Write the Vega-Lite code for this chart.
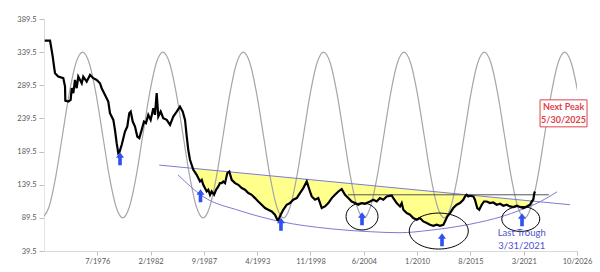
{
  "$schema": "https://vega.github.io/schema/vega-lite/v6.json",
  "width": 533,
  "height": 232,
  "autosize": {"type": "none"},
  "padding": {"left": 44, "top": 19, "right": 23, "bottom": 21},
  "background": "white",
  "config": {
    "view": {"stroke": null},
    "font": "Lato",
    "axis": {"labelFont": "Lato", "labelColor": "#595959", "labelFontSize": 7.5, "domainColor": "#d9d9d9", "tickColor": "#bfbfbf", "grid": false, "title": null, "labelFlush": false, "labelOverlap": false, "zindex": 1}
  },
  "datasets": {
    "price": [
      {"t":1970.99,"v":356.8},{"t":1971.55,"v":356.8},{"t":1971.83,"v":332.7},{"t":1971.97,"v":317.6},{"t":1972.07,"v":307.7},{"t":1972.41,"v":302.6},{"t":1972.94,"v":300.2},{"t":1973.12,"v":287.5},{"t":1973.15,"v":266.4},{"t":1973.46,"v":264.9},{"t":1973.71,"v":267.5},{"t":1973.82,"v":285.1},{"t":1973.99,"v":277.6},{"t":1974.16,"v":297.6},{"t":1974.34,"v":285.1},{"t":1974.51,"v":302.6},{"t":1974.87,"v":292.6},{"t":1975.03,"v":302.6},{"t":1975.39,"v":295.0},{"t":1975.74,"v":305.1},{"t":1976.08,"v":300.2},{"t":1976.44,"v":297.6},{"t":1976.78,"v":292.6},{"t":1976.96,"v":285.1},{"t":1977.31,"v":275.0},{"t":1977.65,"v":264.9},{"t":1977.83,"v":247.4},{"t":1978.18,"v":237.3},{"t":1978.35,"v":222.3},{"t":1978.53,"v":202.2},{"t":1978.70,"v":187.2},{"t":1978.83,"v":189.1},{"t":1979.06,"v":199.7},{"t":1979.40,"v":219.7},{"t":1979.64,"v":227.2},{"t":1979.85,"v":247.4},{"t":1980.00,"v":249.8},{"t":1980.21,"v":234.8},{"t":1980.45,"v":227.2},{"t":1980.69,"v":212.2},{"t":1980.90,"v":209.8},{"t":1981.15,"v":222.3},{"t":1981.39,"v":234.8},{"t":1981.60,"v":232.4},{"t":1981.84,"v":244.9},{"t":1982.09,"v":237.3},{"t":1982.37,"v":254.9},{"t":1982.54,"v":244.9},{"t":1982.72,"v":277.6},{"t":1982.89,"v":242.3},{"t":1983.14,"v":249.8},{"t":1983.41,"v":239.9},{"t":1983.77,"v":237.3},{"t":1984.12,"v":229.8},{"t":1984.46,"v":242.3},{"t":1984.82,"v":249.8},{"t":1985.16,"v":257.4},{"t":1985.45,"v":249.8},{"t":1985.69,"v":237.3},{"t":1985.87,"v":212.2},{"t":1986.03,"v":192.1},{"t":1986.21,"v":177.1},{"t":1986.56,"v":162.0},{"t":1986.91,"v":154.5},{"t":1987.26,"v":144.4},{"t":1987.44,"v":146.9},{"t":1987.60,"v":139.4},{"t":1987.96,"v":129.3},{"t":1988.13,"v":131.9},{"t":1988.31,"v":124.3},{"t":1988.48,"v":129.3},{"t":1988.73,"v":124.3},{"t":1988.94,"v":131.9},{"t":1989.18,"v":136.8},{"t":1989.35,"v":141.9},{"t":1989.53,"v":141.9},{"t":1989.70,"v":144.4},{"t":1989.88,"v":141.9},{"t":1990.12,"v":157.0},{"t":1990.33,"v":159.4},{"t":1990.58,"v":146.9},{"t":1990.93,"v":141.9},{"t":1991.27,"v":139.4},{"t":1991.63,"v":134.4},{"t":1991.97,"v":131.9},{"t":1992.32,"v":126.9},{"t":1992.67,"v":124.3},{"t":1993.02,"v":119.3},{"t":1993.36,"v":114.2},{"t":1993.72,"v":109.3},{"t":1994.07,"v":104.3},{"t":1994.41,"v":101.7},{"t":1994.77,"v":99.2},{"t":1995.11,"v":94.2},{"t":1995.36,"v":86.6},{"t":1995.46,"v":85.6},{"t":1995.71,"v":94.2},{"t":1995.98,"v":101.7},{"t":1996.34,"v":109.3},{"t":1996.69,"v":111.8},{"t":1997.03,"v":116.8},{"t":1997.39,"v":119.3},{"t":1997.73,"v":126.9},{"t":1998.08,"v":134.4},{"t":1998.44,"v":144.4},{"t":1998.78,"v":129.3},{"t":1998.96,"v":121.8},{"t":1999.31,"v":116.8},{"t":1999.65,"v":119.3},{"t":2000.01,"v":104.3},{"t":2000.35,"v":106.7},{"t":2000.70,"v":111.8},{"t":2001.06,"v":119.3},{"t":2001.40,"v":124.3},{"t":2001.75,"v":129.3},{"t":2002.10,"v":132.9},{"t":2002.45,"v":124.3},{"t":2002.79,"v":119.3},{"t":2003.15,"v":114.2},{"t":2003.50,"v":111.8},{"t":2003.84,"v":109.3},{"t":2004.20,"v":111.8},{"t":2004.54,"v":110.8},{"t":2005.07,"v":114.2},{"t":2005.41,"v":116.8},{"t":2005.77,"v":114.2},{"t":2006.11,"v":119.3},{"t":2006.46,"v":116.8},{"t":2006.82,"v":121.8},{"t":2007.34,"v":123.3},{"t":2007.51,"v":119.3},{"t":2007.86,"v":111.8},{"t":2008.21,"v":106.7},{"t":2008.39,"v":111.8},{"t":2008.56,"v":101.7},{"t":2008.91,"v":96.7},{"t":2009.26,"v":94.2},{"t":2009.60,"v":89.2},{"t":2009.96,"v":86.7},{"t":2010.30,"v":89.2},{"t":2010.65,"v":84.1},{"t":2011.01,"v":81.7},{"t":2011.35,"v":79.1},{"t":2011.70,"v":77.6},{"t":2012.05,"v":79.1},{"t":2012.40,"v":77.6},{"t":2012.75,"v":79.1},{"t":2012.92,"v":84.1},{"t":2013.16,"v":91.6},{"t":2013.45,"v":96.7},{"t":2013.79,"v":104.3},{"t":2014.15,"v":109.3},{"t":2014.49,"v":111.8},{"t":2014.84,"v":116.8},{"t":2015.02,"v":121.8},{"t":2015.19,"v":124.3},{"t":2015.36,"v":121.8},{"t":2015.54,"v":122.8},{"t":2015.89,"v":121.8},{"t":2016.06,"v":116.8},{"t":2016.30,"v":104.3},{"t":2016.51,"v":101.7},{"t":2016.77,"v":109.3},{"t":2017.01,"v":114.2},{"t":2017.29,"v":114.2},{"t":2017.64,"v":111.8},{"t":2017.98,"v":112.7},{"t":2018.34,"v":109.3},{"t":2018.69,"v":110.8},{"t":2019.03,"v":107.7},{"t":2019.39,"v":109.3},{"t":2019.73,"v":106.7},{"t":2020.08,"v":105.8},{"t":2020.43,"v":107.7},{"t":2020.78,"v":105.8},{"t":2021.13,"v":104.3},{"t":2021.48,"v":106.7},{"t":2021.83,"v":109.3},{"t":2022.01,"v":114.2},{"t":2022.17,"v":116.8},{"t":2022.28,"v":126.9},{"t":2022.35,"v":129.3}
    ],
    "cycle": [
      {"t":1970.750,"v":89.5},{"t":1971.451,"v":106.2},{"t":1972.153,"v":152},{"t":1972.854,"v":214.5},{"t":1973.556,"v":277},{"t":1974.257,"v":322.8},{"t":1974.958,"v":339.5},{"t":1975.660,"v":322.8},{"t":1976.361,"v":277},{"t":1977.063,"v":214.5},{"t":1977.764,"v":152},{"t":1978.465,"v":106.2},
      {"t":1979.167,"v":89.5},{"t":1979.868,"v":106.2},{"t":1980.570,"v":152},{"t":1981.271,"v":214.5},{"t":1981.973,"v":277},{"t":1982.674,"v":322.8},{"t":1983.375,"v":339.5},{"t":1984.077,"v":322.8},{"t":1984.778,"v":277},{"t":1985.480,"v":214.5},{"t":1986.181,"v":152},{"t":1986.882,"v":106.2},
      {"t":1987.583,"v":89.5},{"t":1988.284,"v":106.2},{"t":1988.986,"v":152},{"t":1989.687,"v":214.5},{"t":1990.389,"v":277},{"t":1991.090,"v":322.8},{"t":1991.791,"v":339.5},{"t":1992.493,"v":322.8},{"t":1993.194,"v":277},{"t":1993.896,"v":214.5},{"t":1994.597,"v":152},{"t":1995.298,"v":106.2},
      {"t":1996.000,"v":89.5},{"t":1996.701,"v":106.2},{"t":1997.403,"v":152},{"t":1998.104,"v":214.5},{"t":1998.806,"v":277},{"t":1999.507,"v":322.8},{"t":2000.208,"v":339.5},{"t":2000.910,"v":322.8},{"t":2001.611,"v":277},{"t":2002.313,"v":214.5},{"t":2003.014,"v":152},{"t":2003.715,"v":106.2},
      {"t":2004.417,"v":89.5},{"t":2005.118,"v":106.2},{"t":2005.820,"v":152},{"t":2006.521,"v":214.5},{"t":2007.223,"v":277},{"t":2007.924,"v":322.8},{"t":2008.625,"v":339.5},{"t":2009.327,"v":322.8},{"t":2010.028,"v":277},{"t":2010.730,"v":214.5},{"t":2011.431,"v":152},{"t":2012.132,"v":106.2},
      {"t":2012.833,"v":89.5},{"t":2013.534,"v":106.2},{"t":2014.236,"v":152},{"t":2014.937,"v":214.5},{"t":2015.639,"v":277},{"t":2016.340,"v":322.8},{"t":2017.041,"v":339.5},{"t":2017.743,"v":322.8},{"t":2018.444,"v":277},{"t":2019.146,"v":214.5},{"t":2019.847,"v":152},{"t":2020.548,"v":106.2},
      {"t":2021.250,"v":89.5},{"t":2021.951,"v":106.2},{"t":2022.653,"v":152},{"t":2023.354,"v":214.5},{"t":2024.056,"v":277},{"t":2024.757,"v":322.8},{"t":2025.458,"v":339.5},{"t":2026.160,"v":322.8},{"t":2026.861,"v":277},{"t":2027.563,"v":214.5}
    ],
    "fill": [{"t":1982.99,"v":169.1},{"t":2022.03,"v":114.9}],
    "trend": [{"t":1982.99,"v":169.1},{"t":2026.02,"v":109.3}],
    "level": [{"t":2002.76,"v":124.3},{"t":2023.81,"v":124.3}],
    "arc": [
      {"t":1984.95,"v":154.5},{"t":1987.57,"v":121.8},{"t":1991.45,"v":100.2},{"t":1995.64,"v":84.1},{"t":2000.88,"v":73.1},{"t":2005.07,"v":68.6},{"t":2008.21,"v":67.1},{"t":2011.35,"v":70.8},{"t":2015.54,"v":79.9},{"t":2018.97,"v":91.9},{"t":2020.78,"v":101.0},{"t":2022.88,"v":113.8},{"t":2024.66,"v":128.8}
    ],
    "arrows": [
      {"t":1978.88,"v":178.6},{"t":1987.31,"v":122.8},{"t":1995.74,"v":79.9},{"t":2004.23,"v":88.2},{"t":2012.61,"v":56.5},{"t":2020.99,"v":86.6}
    ],
    "trough": [{"t":2020.96,"v":66.6,"label":"Last Trough"},{"t":2020.96,"v":46.4,"label":"3/31/2021"}],
    "peak": [{"t":2025.34,"v":256.9,"label":"Next Peak"},{"t":2025.34,"v":237.3,"label":"5/30/2025"}],
    "box": [{"t":2022.88,"t2":2027.80,"v":267.5,"v2":226.8}],
    "e1": [{"t":2004.23,"v":91.6}],
    "e2": [{"t":2012.27,"v":69.6}],
    "e3": [{"t":2020.86,"v":87.9}]
  },
  "encoding": {
    "x": {"field": "t", "type": "quantitative", "scale": {"domain": [1970.917, 2026.75], "nice": false, "zero": false},
      "axis": {"values": [1976.5, 1982.0833, 1987.6667, 1993.25, 1998.8333, 2004.4167, 2010.0, 2015.5833, 2021.1667, 2026.75], "labelExpr": "timeFormat(datetime(floor(datum.value + 0.001), round((datum.value - floor(datum.value + 0.001)) * 12), 1), '%-m/%Y')", "tickSize": 4, "labelPadding": 2}},
    "y": {"field": "v", "type": "quantitative", "scale": {"domain": [39.5, 389.5], "nice": false, "zero": false},
      "axis": {"values": [39.5, 89.5, 139.5, 189.5, 239.5, 289.5, 339.5, 389.5], "format": ".1f", "tickSize": 5, "labelPadding": 3}}
  },
  "layer": [
    {"data": {"name": "fill"}, "mark": {"type": "area", "color": "#ffff8c", "opacity": 1}, "encoding": {"y2": {"datum": 39.5}}},
    {"data": {"name": "price"}, "mark": {"type": "area", "color": "white", "opacity": 1}, "encoding": {"y2": {"datum": 39.5}}},
    {"data": {"name": "cycle"}, "mark": {"type": "line", "color": "#a6a6a6", "strokeWidth": 1.2, "interpolate": "monotone", "clip": true}, "encoding": {}},
    {"data": {"name": "trend"}, "mark": {"type": "line", "color": "#7b7bd6", "strokeWidth": 1}, "encoding": {}},
    {"data": {"name": "arc"}, "mark": {"type": "line", "color": "#7b7bd6", "strokeWidth": 1, "interpolate": "monotone"}, "encoding": {}},
    {"data": {"name": "level"}, "mark": {"type": "line", "color": "#555555", "strokeWidth": 1}, "encoding": {}},
    {"data": {"name": "price"}, "mark": {"type": "line", "color": "#000000", "strokeWidth": 2.2}, "encoding": {}},
    {"data": {"name": "e1"}, "mark": {"type": "point", "filled": false, "stroke": "#000000", "strokeWidth": 1, "opacity": 1, "size": 1024, "shape": "M 1 0 C 1 0.466 0.552 0.844 0 0.844 C -0.552 0.844 -1 0.466 -1 0 C -1 -0.466 -0.552 -0.844 0 -0.844 C 0.552 -0.844 1 -0.466 1 0 Z"}},
    {"data": {"name": "e2"}, "mark": {"type": "point", "filled": false, "stroke": "#000000", "strokeWidth": 1, "opacity": 1, "size": 3481, "shape": "M 1 0 C 1 0.337 0.552 0.61 0 0.61 C -0.552 0.61 -1 0.337 -1 0 C -1 -0.337 -0.552 -0.61 0 -0.61 C 0.552 -0.61 1 -0.337 1 0 Z"}},
    {"data": {"name": "e3"}, "mark": {"type": "point", "filled": false, "stroke": "#000000", "strokeWidth": 1, "opacity": 1, "size": 1444, "shape": "M 1 0 C 1 0.364 0.552 0.66 0 0.66 C -0.552 0.66 -1 0.364 -1 0 C -1 -0.364 -0.552 -0.66 0 -0.66 C 0.552 -0.66 1 -0.364 1 0 Z"}},
    {"data": {"name": "arrows"}, "mark": {"type": "point", "filled": true, "color": "#3050f0", "opacity": 1, "size": 169, "shape": "M 0 -1 L 0.62 -0.15 L 0.28 -0.15 L 0.28 1 L -0.28 1 L -0.28 -0.15 L -0.62 -0.15 Z"}},
    {"data": {"name": "trough"}, "mark": {"type": "text", "color": "#5050d0", "fontSize": 9.5, "font": "Lato", "clip": false}, "encoding": {"text": {"field": "label"}}},
    {"data": {"name": "box"}, "mark": {"type": "rect", "fill": "white", "stroke": "#e0404a", "strokeWidth": 1, "clip": false}, "encoding": {"x2": {"field": "t2"}, "y2": {"field": "v2"}}},
    {"data": {"name": "peak"}, "mark": {"type": "text", "color": "#e0404a", "fontSize": 9, "fontWeight": "bold", "font": "Lato", "clip": false}, "encoding": {"text": {"field": "label"}}}
  ]
}
